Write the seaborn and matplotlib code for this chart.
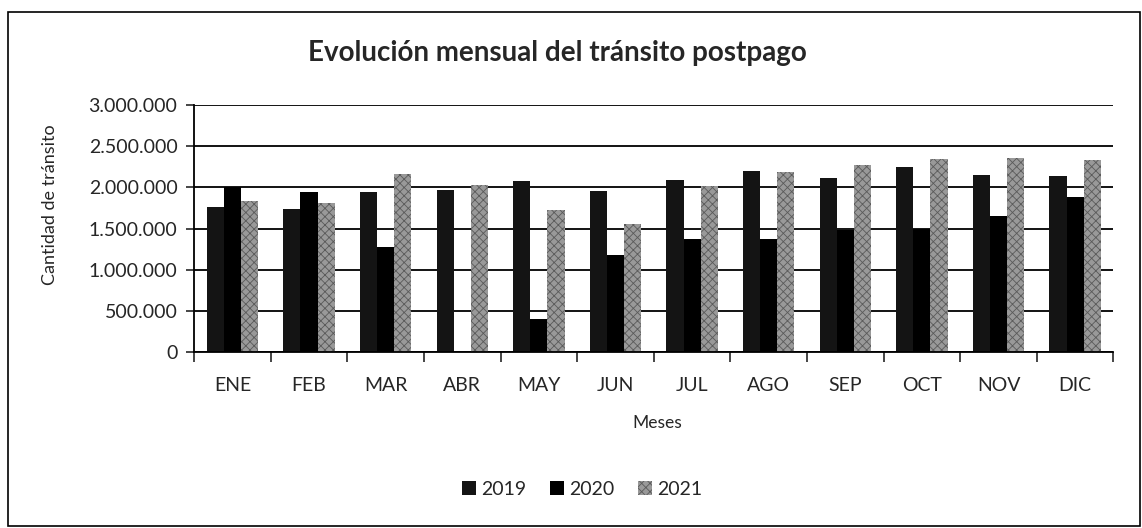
import pandas as pd
import matplotlib
matplotlib.use("Agg")
import matplotlib.pyplot as plt
import matplotlib.ticker as mticker
import seaborn as sns
from matplotlib.patches import Rectangle

# Data
meses = ["ENE", "FEB", "MAR", "ABR", "MAY", "JUN", "JUL", "AGO", "SEP", "OCT", "NOV", "DIC"]
anios = ["2019", "2020", "2021"]
v2019 = [1760000, 1735000, 1945000, 1965000, 2080000, 1960000, 2090000, 2195000, 2110000, 2250000, 2145000, 2135000]
v2020 = [2005000, 1945000, 1275000, 0, 400000, 1185000, 1380000, 1380000, 1478000, 1494000, 1650000, 1880000]
v2021 = [1835000, 1812000, 2160000, 2027000, 1722000, 1560000, 2012000, 2182000, 2267000, 2350000, 2362000, 2330000]

df = pd.DataFrame({
    "Meses": meses * 3,
    "Anio": [a for a in anios for _ in meses],
    "Transito": v2019 + v2020 + v2021,
})

sns.set_style("white")
plt.rcParams["font.family"] = ["Lato", "DejaVu Sans"]
plt.rcParams["hatch.linewidth"] = 0.6

fig = plt.figure(figsize=(11.42, 5.28), dpi=100)
ax = fig.add_axes([0.170, 0.333, 0.805, 0.468])

colores = ["#141414", "#000000", "#999999"]
sns.barplot(data=df, x="Meses", y="Transito", hue="Anio", palette=colores,
            width=0.67, gap=0, legend=False, ax=ax, saturation=1, linewidth=0)

# dithered look for 2021
for p in ax.containers[2]:
    p.set_hatch("xxxx")
    p.set_edgecolor("#5a5a5a")
    p.set_linewidth(0)

ax.set_ylim(0, 3000000)
ax.set_xlim(-0.5, 11.5)
ax.yaxis.set_major_locator(mticker.MultipleLocator(500000))
ax.yaxis.set_major_formatter(mticker.FuncFormatter(lambda v, p: f"{int(v):,}".replace(",", ".")))
ax.grid(axis="y", color="black", linewidth=1.3)
ax.set_axisbelow(True)

for s in ["top", "right"]:
    ax.spines[s].set_visible(False)
for s in ["left", "bottom"]:
    ax.spines[s].set_color("black")
    ax.spines[s].set_linewidth(1.3)

ax.tick_params(axis="y", labelsize=14, length=6, width=1.2, direction="out", left=True, pad=6)
ax.tick_params(axis="x", which="major", labelsize=14, length=0, pad=18)
ax.set_xticks([i + 0.5 for i in range(-1, 12)], minor=True)
ax.tick_params(axis="x", which="minor", length=7, width=1.2, direction="out", bottom=True)

ax.set_xlabel("")
ax.set_ylabel("")
fig.text(657 / 1142, 1 - 423 / 528, "Meses", fontsize=12.5, ha="center", va="center")
fig.text(50 / 1142, 1 - 205 / 528, "Cantidad de tránsito", fontsize=13,
         rotation=90, ha="center", va="center")
fig.suptitle("Evolución mensual del tránsito postpago", x=0.488, y=0.925,
             fontsize=20, fontweight="bold")

ax.legend(ax.containers, anios, loc="center", bbox_to_anchor=(0.51, 0.073),
          bbox_transform=fig.transFigure, ncol=3, frameon=False, fontsize=14,
          handlelength=0.7, handleheight=0.7, handletextpad=0.3, columnspacing=1.2)

# outer chart frame
fig.patches.append(Rectangle((8 / 1142, 2 / 528), 1132 / 1142, 514 / 528,
                             transform=fig.transFigure, fill=False,
                             edgecolor="black", linewidth=1.2))

fig.savefig("out.png", dpi=100)
